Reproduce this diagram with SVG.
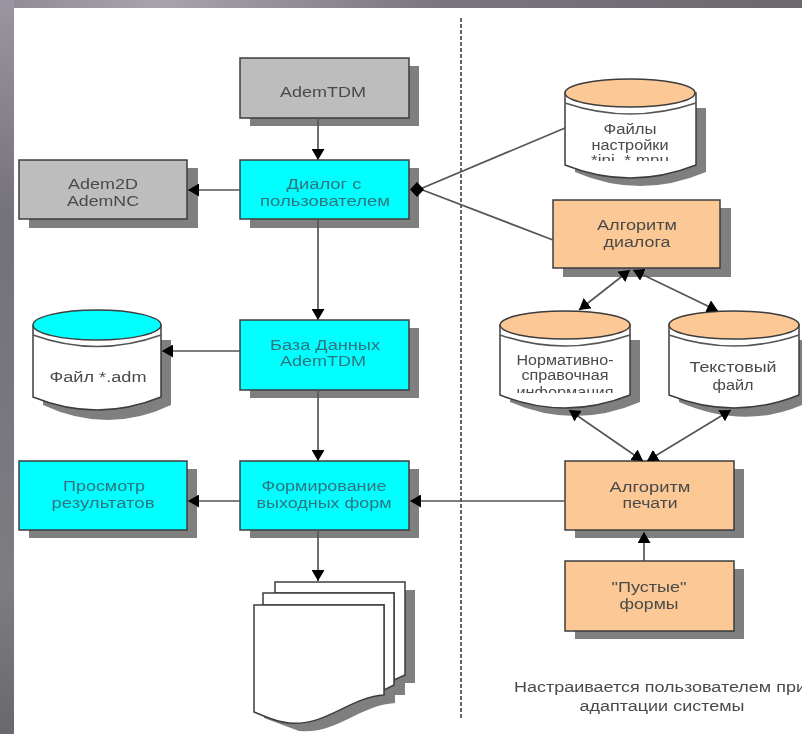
<svg xmlns="http://www.w3.org/2000/svg" width="802" height="734" viewBox="0 0 802 734">
<style>
text{font-family:"Liberation Sans",Arial,sans-serif;font-size:14px;fill:#4a4a4a;text-anchor:middle}
.tc{fill:#2f7480}
.b{stroke:#3c3c3c;stroke-width:1.5}
.g{fill:#bdbdbd}.c{fill:#00ffff}.o{fill:#fbc896}.w{fill:#fff}
.s{fill:#7f7f7f}
.l{fill:none;stroke:#555;stroke-width:1.7}
.k{fill:#000;stroke:none}
</style>
<defs>
<linearGradient id="bgt" x1="0" y1="0" x2="1" y2="0"><stop offset="0" stop-color="#8f8a93"/><stop offset="0.2" stop-color="#a8a3ac"/><stop offset="0.55" stop-color="#7a767e"/><stop offset="1" stop-color="#6c686e"/></linearGradient>
<linearGradient id="bgl" x1="0" y1="0" x2="0" y2="1"><stop offset="0" stop-color="#9a95a0"/><stop offset="0.3" stop-color="#75717a"/><stop offset="0.8" stop-color="#7e7b83"/><stop offset="1" stop-color="#6a686e"/></linearGradient>
<filter id="soft" x="-2%" y="-2%" width="104%" height="104%"><feGaussianBlur stdDeviation="0.55"/></filter>
<clipPath id="cf"><rect x="560" y="80" width="140" height="81"/></clipPath>
<clipPath id="cn"><rect x="495" y="310" width="140" height="83"/></clipPath>
<marker id="a" viewBox="0 0 11 13" refX="11" refY="6.5" markerWidth="11" markerHeight="13" markerUnits="userSpaceOnUse" orient="auto-start-reverse"><path d="M0 0L11 6.5L0 13Z" fill="#000"/></marker>
</defs>
<rect width="802" height="8" fill="url(#bgt)"/>
<rect width="14" height="734" fill="url(#bgl)"/>
<rect x="14" y="8" width="788" height="726" fill="#fff"/>
<g filter="url(#soft)">
<line x1="461" y1="18" x2="461" y2="718" stroke="#333" stroke-width="1.5" stroke-dasharray="4 2"/>
<g id="ademtdm"><rect class="s" x="250" y="66" width="169" height="60"/><rect class="g b" x="240" y="58" width="169" height="60"/><text x="323" y="97" textLength="86" lengthAdjust="spacingAndGlyphs">AdemTDM</text></g>
<g id="dialog"><rect class="s" x="250" y="168" width="169" height="60"/><rect class="c b" x="240" y="160" width="169" height="59"/><text class="tc" x="324" y="189" textLength="75" lengthAdjust="spacingAndGlyphs">Диалог с</text><text class="tc" x="325" y="206" textLength="130" lengthAdjust="spacingAndGlyphs">пользователем</text></g>
<g id="adem2d"><rect class="s" x="29" y="168" width="169" height="60"/><rect class="g b" x="19" y="160" width="168" height="59"/><text x="103" y="189" textLength="70" lengthAdjust="spacingAndGlyphs">Adem2D</text><text x="103" y="206" textLength="72" lengthAdjust="spacingAndGlyphs">AdemNC</text></g>
<g id="db"><rect class="s" x="250" y="328" width="169" height="70"/><rect class="c b" x="240" y="320" width="169" height="70"/><text class="tc" x="325" y="350" textLength="110" lengthAdjust="spacingAndGlyphs">База Данных</text><text class="tc" x="323" y="366" textLength="86" lengthAdjust="spacingAndGlyphs">AdemTDM</text></g>
<g id="forms"><rect class="s" x="250" y="469" width="169" height="69"/><rect class="c b" x="240" y="461" width="169" height="69"/><text class="tc" x="324" y="491" textLength="125" lengthAdjust="spacingAndGlyphs">Формирование</text><text class="tc" x="324" y="508" textLength="135" lengthAdjust="spacingAndGlyphs">выходных форм</text></g>
<g id="view"><rect class="s" x="29" y="469" width="168" height="69"/><rect class="c b" x="19" y="461" width="168" height="69"/><text class="tc" x="104" y="491" textLength="82" lengthAdjust="spacingAndGlyphs">Просмотр</text><text class="tc" x="103" y="508" textLength="103" lengthAdjust="spacingAndGlyphs">результатов</text></g>
<g id="print"><rect class="s" x="575" y="469" width="169" height="69"/><rect class="o b" x="565" y="461" width="169" height="69"/><text x="650" y="492" textLength="81" lengthAdjust="spacingAndGlyphs">Алгоритм</text><text x="650" y="508" textLength="55" lengthAdjust="spacingAndGlyphs">печати</text></g>
<g id="blank"><rect class="s" x="575" y="569" width="169" height="70"/><rect class="o b" x="565" y="561" width="169" height="70"/><text x="649" y="592" textLength="75" lengthAdjust="spacingAndGlyphs">"Пустые"</text><text x="649" y="609" textLength="59" lengthAdjust="spacingAndGlyphs">формы</text></g>
<g id="dlgalg"><rect class="s" x="563" y="208" width="168" height="69"/><rect class="o b" x="553" y="200" width="167" height="68"/><text x="637" y="230" textLength="80" lengthAdjust="spacingAndGlyphs">Алгоритм</text><text x="637" y="247" textLength="67" lengthAdjust="spacingAndGlyphs">диалога</text></g>
<g id="admfile">
<path class="s" d="M43 340V405Q108 435 171 405V340Z"/>
<path class="w b" d="M33 326V397Q97 423 161 397V326Z"/>
<path class="l" d="M33 335Q97 358 161 335"/>
<ellipse class="c b" cx="97" cy="325" rx="64" ry="15"/>
<text x="98" y="382" textLength="97" lengthAdjust="spacingAndGlyphs">Файл *.adm</text>
</g>
<g id="settings">
<path class="s" d="M575 108V172Q640 200 706 172V108Z"/>
<path class="w b" d="M565 93V165Q630 191 696 165V93Z"/>
<path class="l" d="M565 103Q630 125 696 103"/>
<ellipse class="o b" cx="630" cy="93" rx="65" ry="14"/>
<text x="630" y="134" textLength="53" lengthAdjust="spacingAndGlyphs">Файлы</text><text x="630" y="150" textLength="77" lengthAdjust="spacingAndGlyphs">настройки</text>
<text x="630" y="165" textLength="78" lengthAdjust="spacingAndGlyphs" clip-path="url(#cf)">*ini, *.mnu</text>
</g>
<g id="norm">
<path class="s" d="M510 340V402Q575 430 640 402V340Z"/>
<path class="w b" d="M500 325V395Q565 421 630 395V325Z"/>
<path class="l" d="M500 335Q565 357 630 335"/>
<ellipse class="o b" cx="565" cy="325" rx="65" ry="14"/>
<text x="565" y="365" textLength="97" lengthAdjust="spacingAndGlyphs">Нормативно-</text><text x="565" y="380" textLength="87" lengthAdjust="spacingAndGlyphs">справочная</text>
<text x="565" y="397" textLength="97" lengthAdjust="spacingAndGlyphs" clip-path="url(#cn)">информация</text>
</g>
<g id="textfile">
<path class="s" d="M679 340V402Q744 430 802 405V340Z"/>
<path class="w b" d="M669 325V395Q734 421 799 395V325Z"/>
<path class="l" d="M669 335Q734 357 799 335"/>
<ellipse class="o b" cx="734" cy="325" rx="65" ry="14"/>
<text x="733" y="372" textLength="87" lengthAdjust="spacingAndGlyphs">Текстовый</text><text x="733" y="390" textLength="41" lengthAdjust="spacingAndGlyphs">файл</text>
</g>
<g id="docs">
<path class="s" d="M285 590H415V683H405V695H395V703C360 705 335 735 299 731L264 718V625H285Z"/>
<path class="w b" d="M275 582H405V675L394 680V593H275Z"/>
<path class="w b" d="M263 593H394V685L384 690V605H263Z"/>
<path class="w b" d="M254 605H384V695C350 697 325 727 289 723C275 722 262 715 254 712Z"/>
</g>
<g id="connectors">
<line class="l" x1="318" y1="118" x2="318" y2="160" marker-end="url(#a)"/>
<line class="l" x1="240" y1="190" x2="188" y2="190" marker-end="url(#a)"/>
<line class="l" x1="318" y1="219" x2="318" y2="320" marker-end="url(#a)"/>
<line class="l" x1="240" y1="351" x2="162" y2="351" marker-end="url(#a)"/>
<line class="l" x1="318" y1="390" x2="318" y2="461" marker-end="url(#a)"/>
<line class="l" x1="240" y1="501" x2="188" y2="501" marker-end="url(#a)"/>
<line class="l" x1="318" y1="530" x2="318" y2="581" marker-end="url(#a)"/>
<line class="l" x1="565" y1="501" x2="410" y2="501" marker-end="url(#a)"/>
<line class="l" x1="644" y1="561" x2="644" y2="532" marker-end="url(#a)"/>
<line class="l" x1="565" y1="128" x2="420" y2="189"/>
<line class="l" x1="553" y1="240" x2="420" y2="189"/>
<path class="k" d="M410 189.500L417 182L424 189.500L417 197Z"/>
<line class="l" x1="630" y1="270" x2="579" y2="310" marker-start="url(#a)" marker-end="url(#a)"/>
<line class="l" x1="633" y1="270" x2="718" y2="311" marker-start="url(#a)" marker-end="url(#a)"/>
<line class="l" x1="569" y1="410" x2="643" y2="461" marker-start="url(#a)" marker-end="url(#a)"/>
<line class="l" x1="731" y1="410" x2="647" y2="461" marker-start="url(#a)" marker-end="url(#a)"/>
</g>
<g id="note"><text x="660" y="692" textLength="292" lengthAdjust="spacingAndGlyphs">Настраивается пользователем при</text><text x="662" y="711" textLength="165" lengthAdjust="spacingAndGlyphs">адаптации системы</text></g>
</g>
</svg>
